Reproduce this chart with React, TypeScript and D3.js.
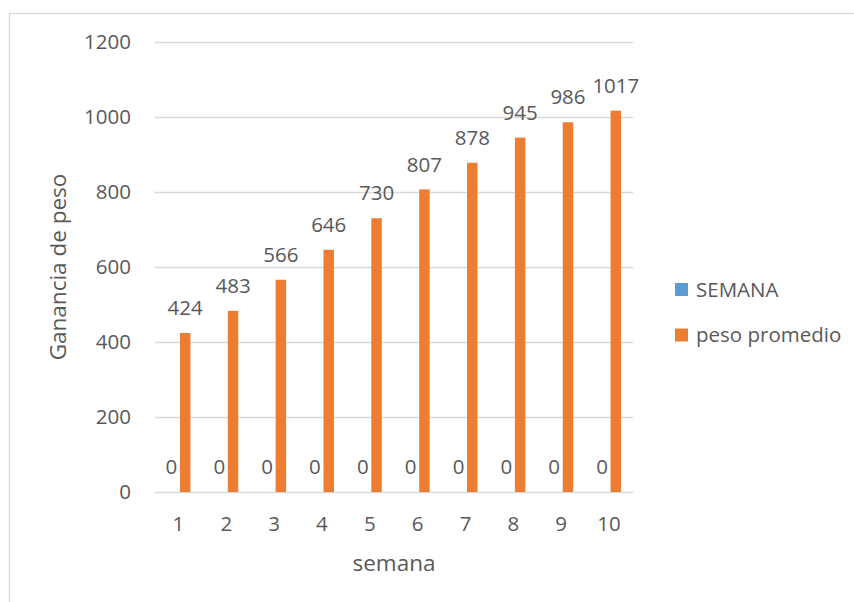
import React from "react";
import * as d3 from "d3";

const categories = ["1", "2", "3", "4", "5", "6", "7", "8", "9", "10"];
const semanaValues = [0, 0, 0, 0, 0, 0, 0, 0, 0, 0];
const pesoValues = [424, 483, 566, 646, 730, 807, 878, 945, 986, 1017];
const yTicks = [0, 200, 400, 600, 800, 1000, 1200];
const seriesNames = ["SEMANA", "peso promedio"];
const seriesColors = ["#5B9BD5", "#ED7D31"];

const W = 854;
const H = 602;
const FONT = "'Open Sans', 'Liberation Sans', sans-serif";
const TXT = "#595959";

export default function App() {
  const x = d3.scaleBand<string>().domain(categories).range([154.5, 633]).padding(0);
  const y = d3.scaleLinear().domain([0, 1200]).range([492, 42]);
  const bw = 10.5;
  const c = (cat: string) => (x(cat) as number) + x.bandwidth() / 2;

  return (
    <svg width={W} height={H} style={{ position: "absolute", left: 0, top: 0, background: "#fff" }} fontFamily={FONT}>
      <rect x={0} y={0} width={W} height={H} fill="#fff" />
      <rect x={9.5} y={13.5} width={W + 20} height={H + 20} fill="none" stroke="#d9d9d9" strokeWidth={1.3} />
      {yTicks.map((t) => (
        <g key={t}>
          <line x1={154.5} x2={633} y1={Math.round(y(t)) + 0.5} y2={Math.round(y(t)) + 0.5} stroke="#d9d9d9" strokeWidth={1.3} />
          <text x={131} y={y(t)} dy="0.35em" textAnchor="end" fontSize={20.5} fill={TXT}>{t}</text>
        </g>
      ))}
      {categories.map((cat, i) => (
        <g key={cat}>
          <rect x={c(cat) - bw - 1.5} y={y(semanaValues[i])} width={bw} height={y(0) - y(semanaValues[i])} fill={seriesColors[0]} />
          <rect x={c(cat) + 1.5} y={y(pesoValues[i])} width={bw} height={y(0) - y(pesoValues[i])} fill={seriesColors[1]} />
          <text x={c(cat) - 7} y={467} dy="0.35em" textAnchor="middle" fontSize={20.5} fill={TXT}>{semanaValues[i]}</text>
          <text x={c(cat) + 1.5 + bw / 2} y={y(pesoValues[i]) - 25} dy="0.35em" textAnchor="middle" fontSize={20.5} fill={TXT}>{pesoValues[i]}</text>
          <text x={c(cat)} y={524} dy="0.35em" textAnchor="middle" fontSize={20.5} fill={TXT}>{cat}</text>
        </g>
      ))}
      <text x={394} y={563} dy="0.35em" textAnchor="middle" fontSize={22.5} fill={TXT}>semana</text>
      <text transform={`translate(58,267) rotate(-90)`} dy="0.35em" textAnchor="middle" fontSize={22.5} fill={TXT}>Ganancia de peso</text>
      {seriesNames.map((name, i) => (
        <g key={name} transform={`translate(675,${i === 0 ? 289.5 : 335})`}>
          <rect x={0} y={-6.5} width={13} height={13} fill={seriesColors[i]} />
          <text x={21} y={0} dy="0.35em" fontSize={20.5} fill={TXT}>{name}</text>
        </g>
      ))}
    </svg>
  );
}
